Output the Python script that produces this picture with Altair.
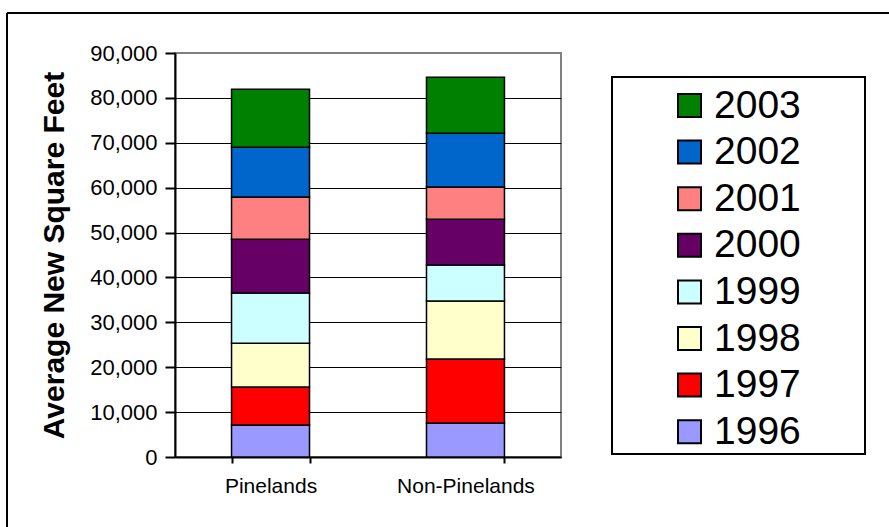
import altair as alt
import pandas as pd

categories = ["Pinelands", "Non-Pinelands"]
years = ["1996", "1997", "1998", "1999", "2000", "2001", "2002", "2003"]
pinelands = [7150, 8450, 9750, 11200, 11950, 9430, 11070, 12900]
non_pinelands = [7590, 14260, 12920, 8010, 10180, 7190, 11970, 12450]
colors = ["#9999FF", "#FF0000", "#FFFFCC", "#CCFFFF", "#660066", "#FF8080", "#0066CC", "#008000"]
y_ticks = [0, 10000, 20000, 30000, 40000, 50000, 60000, 70000, 80000, 90000]

rows = []
for cat, vals in zip(categories, [pinelands, non_pinelands]):
    for yr, v in zip(years, vals):
        rows.append({"area": cat, "year": yr, "sqft": v})
df = pd.DataFrame(rows)

FONT = "Liberation Sans"

bars = alt.Chart(df).mark_bar(stroke="black", strokeWidth=1.5).encode(
    x=alt.X(
        "area:N",
        sort=categories,
        scale=alt.Scale(paddingInner=0.6, paddingOuter=0.29),
        axis=alt.Axis(
            title=None, labelAngle=0, labelFontSize=21, labelFont=FONT, labelColor="black",
            tickBand="extent", tickSize=6, tickWidth=2, tickColor="black",
            domainColor="black", domainWidth=2, labelPadding=12, grid=False,
        ),
    ),
    y=alt.Y(
        "sqft:Q",
        stack="zero",
        scale=alt.Scale(domain=[0, 90000], nice=False),
        axis=alt.Axis(
            title="Average New Square Feet", titleFontSize=30, titleFont=FONT,
            titleFontWeight="bold", titleColor="black", titlePadding=20,
            values=y_ticks, format=",.0f", labelFontSize=22, labelFont=FONT, labelColor="black",
            tickSize=10, tickWidth=2, tickColor="black", labelPadding=8,
            domainColor="black", domainWidth=2,
            grid=True, gridWidth=1,
            gridColor={"condition": {"test": "datum.value >= 90000", "value": "#808080"}, "value": "black"},
        ),
    ),
    color=alt.Color(
        "year:N",
        scale=alt.Scale(domain=years[::-1], range=colors[::-1]),
        legend=alt.Legend(
            title=None, orient="none", legendX=495, legendY=33, padding=0,
            symbolType="square", symbolSize=529, symbolStrokeColor="black",
            symbolStrokeWidth=2, symbolOpacity=1, labelFontSize=39, labelFont=FONT,
            labelColor="black", labelOffset=5, rowPadding=6.6,
        ),
    ),
    order=alt.Order("year:N", sort="ascending"),
)

frame_data = alt.Data(values=[{"k": 1}])

legend_box = alt.Chart(frame_data).mark_rect(fill=None, stroke="black", strokeWidth=2).encode(
    x=alt.value(437), x2=alt.value(690), y=alt.value(24), y2=alt.value(401)
)
outer_left = alt.Chart(frame_data).mark_rule(color="black", strokeWidth=2).encode(
    x=alt.value(-168), y=alt.value(-40), y2=alt.value(520)
)
outer_top = alt.Chart(frame_data).mark_rule(color="black", strokeWidth=2).encode(
    x=alt.value(-168), x2=alt.value(760), y=alt.value(-40)
)

chart = alt.layer(bars, legend_box, outer_left, outer_top).properties(
    width=386,
    height=404,
    autosize=alt.AutoSizeParams(type="none"),
    padding={"left": 175, "top": 53, "right": 328, "bottom": 70},
    background="white",
).configure_view(stroke="#808080", strokeWidth=2)

chart.save("out.html", embed_options={"renderer": "svg", "actions": False})
